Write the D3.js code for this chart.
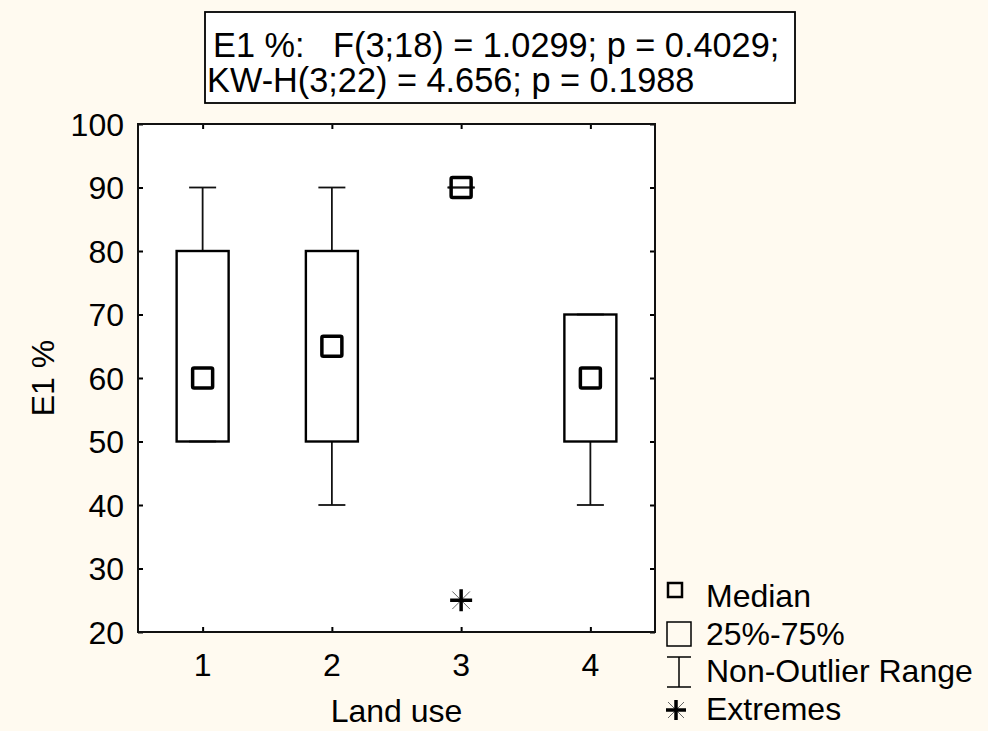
<!DOCTYPE html>
<html><head><meta charset="utf-8">
<script src="https://cdn.jsdelivr.net/npm/d3@7"></script>
<style>html,body{margin:0;padding:0;background:#fffaf0;}svg{display:block;font-family:"Liberation Sans",Arial,sans-serif;}</style>
</head><body>
<script>
const categories = ["1","2","3","4"];
const medians = [60, 65, 90, 60];
const q1 = [50, 50, 90, 50];
const q3 = [80, 80, 90, 70];
const whiskerLow = [50, 40, 90, 40];
const whiskerHigh = [90, 90, 90, 70];
const extremes = [[], [], [25], []];
const yTicks = [20,30,40,50,60,70,80,90,100];
const titleLines = ["E1 %:   F(3;18) = 1.0299; p = 0.4029;", "KW-H(3;22) = 4.656; p = 0.1988"];
const legendItems = ["Median","25%-75%","Non-Outlier Range","Extremes"];

const W=988,H=731;
const svg=d3.select("body").append("svg").attr("width",W).attr("height",H);
svg.append("rect").attr("width",W).attr("height",H).attr("fill","#fffaf0");
const L=138,R=655,T=124,B=632;
const x=d3.scaleLinear().domain([0.5,4.5]).range([L,R]);
const y=d3.scaleLinear().domain([20,100]).range([B,T]);

svg.append("rect").attr("x",L).attr("y",T).attr("width",R-L).attr("height",B-T).attr("fill","#fff");

const fs=32, tfs=34.3;
const yAxis=svg.append("g").attr("transform",`translate(${L},0)`).call(d3.axisRight(y).tickValues(yTicks).tickSize(5).tickFormat(""));
const yAxisR=svg.append("g").attr("transform",`translate(${R},0)`).call(d3.axisLeft(y).tickValues(yTicks).tickSize(5).tickFormat(""));
const xAxisB=svg.append("g").attr("transform",`translate(0,${B})`).call(d3.axisTop(x).tickValues([1,2,3,4]).tickSize(5).tickFormat(""));
const xAxisT=svg.append("g").attr("transform",`translate(0,${T})`).call(d3.axisBottom(x).tickValues([1,2,3,4]).tickSize(5).tickFormat(""));
[yAxis,yAxisR,xAxisB,xAxisT].forEach(g=>{g.select(".domain").remove();g.selectAll("line").attr("stroke","#000").attr("stroke-width",2);});
svg.append("rect").attr("x",L).attr("y",T).attr("width",R-L).attr("height",B-T).attr("fill","none").attr("stroke","#111").attr("stroke-width",2);

svg.append("g").selectAll("text").data(yTicks).join("text")
 .attr("x",L-14).attr("y",d=>y(d)).attr("dy","0.36em").attr("text-anchor","end").attr("font-size",fs).text(d=>d);
svg.append("g").selectAll("text").data(categories).join("text")
 .attr("x",(d,i)=>x(i+1)).attr("y",B+44).attr("text-anchor","middle").attr("font-size",fs).text(d=>d);
svg.append("text").attr("x",(L+R)/2).attr("y",722).attr("text-anchor","middle").attr("font-size",fs).text("Land use");
svg.append("text").attr("transform",`translate(54,${(T+B)/2}) rotate(-90)`).attr("text-anchor","middle").attr("font-size",fs).text("E1 %");

const bw=52, cw=27, ms=20;
const g=svg.append("g");
function drawStar(sel,cx,cy,r){
  const d=r*0.8;
  sel.append("line").attr("x1",cx-d).attr("y1",cy-d).attr("x2",cx+d).attr("y2",cy+d).attr("stroke","#666").attr("stroke-width",1);
  sel.append("line").attr("x1",cx-d).attr("y1",cy+d).attr("x2",cx+d).attr("y2",cy-d).attr("stroke","#666").attr("stroke-width",1);
  sel.append("line").attr("x1",cx-r).attr("y1",cy).attr("x2",cx+r).attr("y2",cy).attr("stroke","#000").attr("stroke-width",3.5);
  sel.append("line").attr("x1",cx).attr("y1",cy-r).attr("x2",cx).attr("y2",cy+r).attr("stroke","#000").attr("stroke-width",3.5);
}
categories.forEach((c,i)=>{
  const cx=x(i+1);
  g.append("line").attr("x1",cx).attr("x2",cx).attr("y1",y(whiskerHigh[i])).attr("y2",y(q3[i])).attr("stroke","#111").attr("stroke-width",1.8);
  g.append("line").attr("x1",cx).attr("x2",cx).attr("y1",y(q1[i])).attr("y2",y(whiskerLow[i])).attr("stroke","#111").attr("stroke-width",1.8);
  g.append("line").attr("x1",cx-cw/2).attr("x2",cx+cw/2).attr("y1",y(whiskerHigh[i])).attr("y2",y(whiskerHigh[i])).attr("stroke","#111").attr("stroke-width",1.8);
  g.append("line").attr("x1",cx-cw/2).attr("x2",cx+cw/2).attr("y1",y(whiskerLow[i])).attr("y2",y(whiskerLow[i])).attr("stroke","#111").attr("stroke-width",1.8);
  g.append("rect").attr("x",cx-bw/2).attr("y",y(q3[i])).attr("width",bw).attr("height",y(q1[i])-y(q3[i])).attr("fill","none").attr("stroke","#000").attr("stroke-width",2.4);
  g.append("rect").attr("x",cx-ms/2).attr("y",y(medians[i])-ms/2).attr("width",ms).attr("height",ms).attr("rx",1.5).attr("fill","none").attr("stroke","#000").attr("stroke-width",3.5);
  extremes[i].forEach(v=>drawStar(g,cx,y(v),11));
});

const defs=svg.append("defs");
defs.append("clipPath").attr("id","tclip").append("rect").attr("x",205).attr("y",12).attr("width",590).attr("height",91);
const tb=svg.append("g");
tb.append("rect").attr("x",205).attr("y",12).attr("width",590).attr("height",91).attr("fill","#fff");
const tt=tb.append("g").attr("clip-path","url(#tclip)");
tt.append("text").attr("x",213).attr("y",57).attr("font-size",tfs).style("white-space","pre").text(titleLines[0]);
tt.append("text").attr("x",207).attr("y",92).attr("font-size",tfs).style("white-space","pre").text(titleLines[1]);
tb.append("rect").attr("x",205).attr("y",12).attr("width",590).attr("height",91).attr("fill","none").attr("stroke","#000").attr("stroke-width",1.8);

const lg=svg.append("g");
const lx=679, ly=[595,633,670,708];
lg.append("rect").attr("x",lx-11).attr("y",ly[0]-12).attr("width",14).attr("height",14).attr("fill","none").attr("stroke","#000").attr("stroke-width",2.5);
lg.append("rect").attr("x",lx-12).attr("y",ly[1]-11).attr("width",24).attr("height",24).attr("fill","none").attr("stroke","#000").attr("stroke-width",1.5);
lg.append("line").attr("x1",lx-12).attr("x2",lx+12).attr("y1",ly[2]-13).attr("y2",ly[2]-13).attr("stroke","#000").attr("stroke-width",1.5);
lg.append("line").attr("x1",lx-12).attr("x2",lx+12).attr("y1",ly[2]+17).attr("y2",ly[2]+17).attr("stroke","#000").attr("stroke-width",1.5);
lg.append("line").attr("x1",lx).attr("x2",lx).attr("y1",ly[2]-13).attr("y2",ly[2]+17).attr("stroke","#000").attr("stroke-width",1.5);
drawStar(lg,lx-3,ly[3]+2,10);
lg.selectAll("text.lt").data(legendItems).join("text").attr("class","lt")
 .attr("x",706).attr("y",(d,i)=>ly[i]).attr("dy","0.36em").attr("font-size",fs).text(d=>d);
</script>
</body></html>
